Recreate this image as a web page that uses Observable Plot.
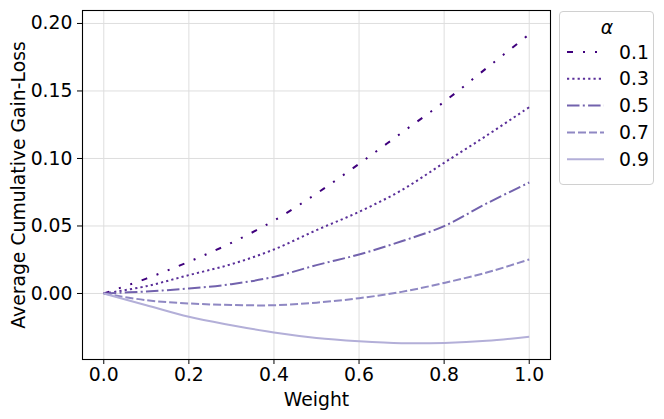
<!DOCTYPE html>
<html><head><meta charset="utf-8">
<script src="https://cdn.jsdelivr.net/npm/d3@7"></script>
<script src="https://cdn.jsdelivr.net/npm/@observablehq/plot@0.6"></script>
<style>
body{margin:0;background:#fff;}
#wrap{position:relative;width:664px;height:419px;font-family:"DejaVu Sans",sans-serif;}
#legend{position:absolute;left:559px;top:11px;width:95px;height:174px;border:1px solid #d0d0d0;border-radius:4px;box-sizing:border-box;background:#fff;}
</style></head><body>
<div id="wrap"><div id="legend"></div></div>
<script>
const weights = [0, 0.1, 0.2, 0.3, 0.4, 0.5, 0.6, 0.7, 0.8, 0.9, 1.0];
const alphaLabels = ["0.1", "0.3", "0.5", "0.7", "0.9"];
const gainA01 = [0, 0.011, 0.0235, 0.0375, 0.054, 0.074, 0.096, 0.119, 0.142, 0.167, 0.192];
const gainA03 = [0, 0.0054, 0.0136, 0.0217, 0.0326, 0.0469, 0.0605, 0.0765, 0.0968, 0.117, 0.138];
const gainA05 = [0, 0.0015, 0.0037, 0.0069, 0.0123, 0.021, 0.0289, 0.0387, 0.0499, 0.0667, 0.0822];
const gainA07 = [0, -0.005, -0.0074, -0.0085, -0.0087, -0.0068, -0.0035, 0.0012, 0.0078, 0.0155, 0.0252];
const gainA09 = [0, -0.0087, -0.0173, -0.0235, -0.0289, -0.0329, -0.0353, -0.0368, -0.0366, -0.0351, -0.0321];
const xTicks = [0, 0.2, 0.4, 0.6, 0.8, 1.0];
const yTicks = [0, 0.05, 0.10, 0.15, 0.20];

const seriesValues = [gainA01, gainA03, gainA05, gainA07, gainA09];
const colors = ["#3f007d", "#5a2f99", "#7262ad", "#8f88c3", "#b3afd8"];
const dashes = ["6,10,2,10,2,10", "2.2,3.1", "12.5,3.3,2,3.3", "8,3", "none"];

const series = alphaLabels.map((a, i) => ({
  alpha: a,
  data: weights.map((w, j) => ({weight: w, gain: seriesValues[i][j]}))
}));

const fs = "18.8px";
const chart = Plot.plot({
  width: 664,
  height: 419,
  marginLeft: 82,
  marginRight: 114,
  marginTop: 10,
  marginBottom: 60,
  style: {fontFamily: '"DejaVu Sans", sans-serif', fontSize: fs, color: "#000", background: "#fff"},
  x: {domain: [-0.05, 1.05]},
  y: {domain: [-0.0489, 0.2096]},
  marks: [
    Plot.gridX(xTicks, {stroke: "#dedede", strokeOpacity: 1, strokeWidth: 1}),
    Plot.gridY(yTicks, {stroke: "#dedede", strokeOpacity: 1, strokeWidth: 1}),
    ...series.map((s, i) => Plot.line(s.data, {
      x: "weight", y: "gain", stroke: colors[i], strokeWidth: 2,
      strokeDasharray: dashes[i] === "none" ? undefined : dashes[i],
      strokeLinecap: "butt", curve: "catmull-rom"
    })),
    Plot.frame({stroke: "#000", strokeWidth: 1.1}),
    Plot.axisX(xTicks, {tickFormat: d3.format(".1f"), tickSize: 5, tickPadding: 3, fontSize: fs,
      label: "Weight", labelAnchor: "center", labelArrow: "none", labelOffset: 46}),
    Plot.axisY(yTicks, {tickFormat: d3.format(".2f"), tickSize: 5, tickPadding: 5, fontSize: fs,
      label: "Average Cumulative Gain-Loss", labelAnchor: "center", labelArrow: "none", labelOffset: 71})
  ]
});
document.getElementById("wrap").prepend(chart);

// legend
const lg = d3.select("#legend").append("svg").attr("width", 93).attr("height", 172)
  .style("font-family", '"DejaVu Sans", sans-serif').style("font-size", fs);
lg.append("text").attr("x", 47).attr("y", 15).attr("text-anchor", "middle")
  .attr("dominant-baseline", "central").style("font-style", "italic").text("α");
alphaLabels.forEach((a, i) => {
  const y = 40 + i * 26.8;
  lg.append("line").attr("x1", 7).attr("x2", 44).attr("y1", y).attr("y2", y)
    .attr("stroke", colors[i]).attr("stroke-width", 2)
    .attr("stroke-dasharray", dashes[i] === "none" ? null : dashes[i]);
  lg.append("text").attr("x", 59).attr("y", y).attr("dominant-baseline", "central").text(a);
});
</script>
</body></html>
